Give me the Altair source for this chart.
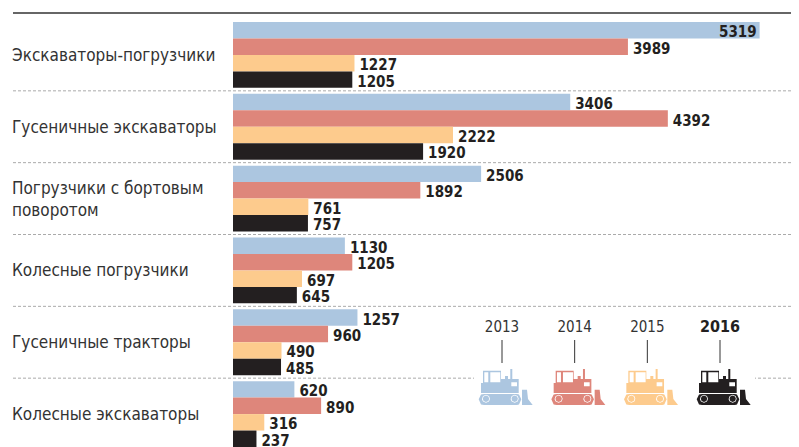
import altair as alt
import pandas as pd

categories = ["Экскаваторы-погрузчики", "Гусеничные экскаваторы", "Погрузчики с бортовым|поворотом",
              "Колесные погрузчики", "Гусеничные тракторы", "Колесные экскаваторы"]
years = ["2013", "2014", "2015", "2016"]
v2013 = [5319, 3406, 2506, 1130, 1257, 620]
v2014 = [3989, 4392, 1892, 1205, 960, 890]
v2015 = [1227, 2222, 761, 697, 490, 316]
v2016 = [1205, 1920, 757, 645, 485, 237]
colors = ["#ACC6E0", "#DE867B", "#FDCB8D", "#231F20"]

rows = []
for y, vals in zip(years, [v2013, v2014, v2015, v2016]):
    for c, v in zip(categories, vals):
        rows.append({"cat": c, "year": y, "value": v})
df = pd.DataFrame(rows)
cat_df = pd.DataFrame({"cat": categories})
leg_df = pd.DataFrame({"year": years})

DOZER = (
    "M-19,-16.3L-1,-16.3L-1,-8L3,-8L3,-11L6,-11L6,-8L8.3,-8L8.3,-18L10.3,-18L10.3,-8L16.7,-8L16.7,6L-21,6L-21,-4L-19,-4Z"
    "M-17.7,-14.7L-17.7,-4.7L-13.7,-4.7L-13.7,-14.7Z"
    "M-11.7,-14.7L-11.7,-4.7L-1.7,-4.7L-1.7,-14.7Z"
    "M9.3,-4.7L9.3,-0.7L15,-0.7L15,-4.7Z"
    "M-18,7L15,7L17,7.5L19.3,12.3L17,17.5L15,18L-18,18L-21,17.5L-23.3,12.3L-21,7.5Z"
    "M-20,11.7L-20,12.5L-19,14.5L-16,15.7L-13,14.5L-12,11.7L-13,9L-16,7.7L-19,9Z"
    "M-19.2,11.7L-18.4,14L-16,15L-13.6,14L-12.8,11.7L-13.6,9.4L-16,8.4L-18.4,9.4Z"
    "M8.7,11.7L8.7,12.5L9.7,14.5L12.7,15.7L15.7,14.5L16.7,11.7L15.7,9L12.7,7.7L9.7,9Z"
    "M9.5,11.7L10.3,14L12.7,15L15.1,14L15.9,11.7L15.1,9.4L12.7,8.4L10.3,9.4Z"
    "M20,2.7L25,2.7L26,12L30.7,18L20,18Z"
)

FONT = "DejaVu Sans Condensed"
INK = "#231F20"

y_scale = alt.Scale(range=[0, 431], paddingInner=0, paddingOuter=0)
y_enc = alt.Y("cat:N", sort=categories, scale=y_scale, axis=None)
x_enc = alt.X("value:Q", scale=alt.Scale(domain=[0, 5636], nice=False), axis=None)
yoff = alt.YOffset("year:N", sort=years, scale=alt.Scale(paddingInner=0, paddingOuter=0.18))
color = alt.Color("year:N", sort=years, scale=alt.Scale(domain=years, range=colors), legend=None)

bars = alt.Chart(df).mark_bar(cornerRadius=0).encode(y=y_enc, x=x_enc, yOffset=yoff, color=color)
labels = alt.Chart(df).transform_filter("datum.value < 5000").mark_text(
    align="left", baseline="middle", dx=5, dy=2, font=FONT, fontWeight="bold",
    fontSize=15, color=INK).encode(y=y_enc, x=x_enc, yOffset=yoff, text="value:Q")
# The page cannot draw past x=791, so the longest bar's value sits just inside the bar end.
label_top = alt.Chart(df).transform_filter("datum.value >= 5000").mark_text(
    align="right", baseline="middle", dx=-3, dy=2, font=FONT, fontWeight="bold",
    fontSize=15, color=INK).encode(y=y_enc, x=x_enc, yOffset=yoff, text="value:Q")

cat_text = alt.Chart(cat_df).transform_filter("indexof(datum.cat, '|') < 0").mark_text(
    align="left", baseline="middle", dy=1, font=FONT, fontSize=17, color="#333333").encode(
    y=y_enc, x=alt.value(-221), text="cat:N")
cat_text2 = alt.Chart(cat_df).transform_filter("indexof(datum.cat, '|') >= 0").mark_text(
    align="left", baseline="middle", dy=-9.5, font=FONT, fontSize=17, color="#333333",
    lineBreak="|", lineHeight=22).encode(y=y_enc, x=alt.value(-221), text="cat:N")

seps = alt.Chart(cat_df).mark_rule(color="#AAAAAA", strokeDash=[3, 2], strokeWidth=1).encode(
    y=alt.Y("cat:N", sort=categories, bandPosition=1, scale=y_scale, axis=None),
    x=alt.value(-220), x2=alt.value(558))
top = alt.Chart(cat_df.head(1)).mark_rule(color="#333333", strokeWidth=1.5).encode(
    y=alt.value(-6), x=alt.value(-220), x2=alt.value(558))
mask = alt.Chart(cat_df.head(1)).mark_rule(color="white", strokeWidth=4).encode(
    y=alt.value(359.5), x=alt.value(241), x2=alt.value(522))

leg_x = alt.X("year:N", sort=years, scale=alt.Scale(type="point", domain=years, range=[269, 487], padding=0), axis=None)
leg_color = alt.Color("year:N", sort=years, scale=alt.Scale(domain=years, range=colors), legend=None)
leg_text = alt.Chart(leg_df).transform_filter("datum.year != '2016'").mark_text(
    font=FONT, fontSize=15, color="#333333", baseline="alphabetic").encode(x=leg_x, y=alt.value(313), text="year:N")
leg_bold = alt.Chart(leg_df).transform_filter("datum.year == '2016'").mark_text(
    font=FONT, fontSize=16, fontWeight="bold", color=INK, baseline="alphabetic").encode(x=leg_x, y=alt.value(313), text="year:N")
leg_tick = alt.Chart(leg_df).mark_rule(color="#333333", strokeWidth=1).encode(x=leg_x, y=alt.value(321), y2=alt.value(344))
leg_icon = alt.Chart(leg_df).mark_point(shape=DOZER, size=4, filled=True, opacity=1, strokeWidth=0).encode(
    x=leg_x, y=alt.value(368), color=leg_color)

chart = alt.layer(seps, top, cat_text, cat_text2, bars, labels, label_top, mask, leg_text, leg_bold, leg_tick, leg_icon).resolve_scale(x="independent").properties(
    width=558, height=428,
    padding={"left": 225, "top": 11, "right": 0, "bottom": 0},
    autosize=alt.AutoSizeParams(type="none"),
).configure_view(stroke=None)

chart.save("out.html", embed_options={"renderer": "svg", "actions": False})
